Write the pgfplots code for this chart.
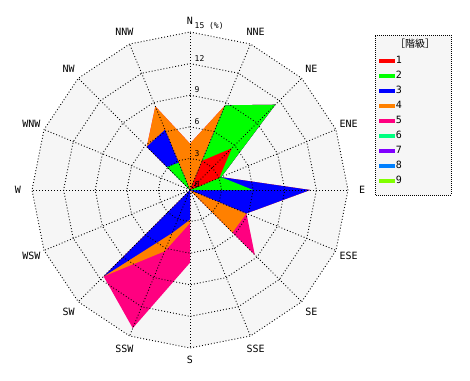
\documentclass[border=0pt]{standalone}
\usepackage{fontspec}
\setmainfont{DejaVu Sans Mono}
\newfontfamily\cjk{Noto Sans CJK JP}
\usepackage{pgfplots}
\pgfplotsset{compat=1.18}
\usepackage{pgfplotstable}
\usepgfplotslibrary{polar}

\definecolor{c1}{RGB}{255,0,0}
\definecolor{c2}{RGB}{0,255,0}
\definecolor{c3}{RGB}{0,0,255}
\definecolor{c4}{RGB}{255,128,0}
\definecolor{c5}{RGB}{255,0,128}
\definecolor{c6}{RGB}{0,255,128}
\definecolor{c7}{RGB}{128,0,255}
\definecolor{c8}{RGB}{0,128,255}
\definecolor{c9}{RGB}{128,255,0}
\definecolor{bgc}{RGB}{246,246,246}

% cumulative frequency (%) of classes 1..5 per direction (angle = math angle)
\pgfplotstableread{
ang   c1   c2    c3    c4    c5
90    0    0     0     4.4   4.4
67.5  3.0  8.7   8.7   8.7   8.7
45    5.6  11.45 11.45 11.45 11.45
22.5  3.0  3.2   3.2   3.2   3.2
0     0    6.0   11.4  11.4  11.4
337.5 0    0     5.8   5.8   5.8
315   0    0     0     5.7   8.7
292.5 0    0     0     0     0
270   0    0     2.8   3.15  6.9
247.5 0    0     4.4   6.3   14.2
225   0    0     11.6  11.6  11.6
202.5 0    0     0     0     0
180   0    0     0     0     0
157.5 0    0     0     0     0
135   0    3.1   5.8   5.8   5.8
112.5 0    2.8   6.2   8.6   8.6
90    0    0     0     4.4   4.4
}\rose

\tikzset{gridl/.style={black, line width=0.9pt, dash pattern=on 0.9pt off 2.1pt}}
\pgfplotsset{legimg/.style={legend image code/.code={\path[fill=#1, draw=none] (0pt,-2pt) rectangle (16pt,2pt);}}}

\begin{document}
\begin{tikzpicture}[x=1pt,y=1pt]
\useasboundingbox (0,0) rectangle (470,380);
% legend frame
\draw[black, line width=0.9pt, dash pattern=on 1pt off 1pt, fill=bgc] (375,185) rectangle (451,345);
\node[font=\cjk\fontsize{10}{11}\selectfont] at (415,336) {［階級］};
\begin{polaraxis}[
  at={(190pt,190pt)}, anchor=center,
  width=316pt, height=316pt, scale only axis,
  hide axis, clip=false, no markers,
  xmin=0, xmax=360, ymin=0, ymax=15,
  legend style={at={(axis description cs:1.098,0.925)}, anchor=north west,
    draw=none, fill=none, inner sep=0pt, outer sep=0pt, row sep=4pt,
    nodes={inner sep=1pt, text height=7pt, text depth=2pt},
    font=\fontsize{10}{11}\selectfont},
  legend cell align=left,
]
% background
\addplot[fill=bgc, draw=none, forget plot] table[x=ang, y expr=15] {\rose};
% stacked classes, largest first
\addplot[fill=c5, draw=none, forget plot] table[x=ang, y=c5] {\rose};
\addplot[fill=c4, draw=none, forget plot] table[x=ang, y=c4] {\rose};
\addplot[fill=c3, draw=none, forget plot] table[x=ang, y=c3] {\rose};
\addplot[fill=c2, draw=none, forget plot] table[x=ang, y=c2] {\rose};
\addplot[fill=c1, draw=none, forget plot] table[x=ang, y=c1] {\rose};
% grid
\pgfplotsinvokeforeach{3,6,9,12,15}{
  \addplot[gridl, forget plot] table[x=ang, y expr=#1] {\rose};
}
\pgfplotsinvokeforeach{0,22.5,45,67.5,90,112.5,135,157.5,180,202.5,225,247.5,270,292.5,315,337.5}{
  \addplot[gridl, forget plot] coordinates {(#1,0) (#1,15)};
}
% legend
\addlegendimage{legimg=c1}\addlegendentry{1}
\addlegendimage{legimg=c2}\addlegendentry{2}
\addlegendimage{legimg=c3}\addlegendentry{3}
\addlegendimage{legimg=c4}\addlegendentry{4}
\addlegendimage{legimg=c5}\addlegendentry{5}
\addlegendimage{legimg=c6}\addlegendentry{6}
\addlegendimage{legimg=c7}\addlegendentry{7}
\addlegendimage{legimg=c8}\addlegendentry{8}
\addlegendimage{legimg=c9}\addlegendentry{9}
% direction labels
\begin{scope}[every node/.style={font=\fontsize{10}{11}\selectfont, inner sep=0pt}]
\node at (axis cs:90,16.1) {N};
\node at (axis cs:67.5,16.3) {NNE};
\node at (axis cs:45,16.3) {NE};
\node at (axis cs:22.5,16.3) {ENE};
\node at (axis cs:0,16.35) {E};
\node at (axis cs:337.5,16.3) {ESE};
\node at (axis cs:315,16.3) {SE};
\node at (axis cs:292.5,16.3) {SSE};
\node at (axis cs:270,16.1) {S};
\node at (axis cs:247.5,16.3) {SSW};
\node at (axis cs:225,16.3) {SW};
\node at (axis cs:202.5,16.3) {WSW};
\node at (axis cs:180,16.35) {W};
\node at (axis cs:157.5,16.3) {WNW};
\node at (axis cs:135,16.3) {NW};
\node at (axis cs:112.5,16.3) {NNW};
\end{scope}
% radial tick labels
\begin{scope}[every node/.style={font=\fontsize{8}{9}\selectfont, inner sep=0pt, anchor=south west, xshift=4.5pt, yshift=2pt}]
\node at (axis cs:90,0) {0};
\node at (axis cs:90,3) {3};
\node at (axis cs:90,6) {6};
\node at (axis cs:90,9) {9};
\node at (axis cs:90,12) {12};
\node at (axis cs:90,15) {15 (\%)};
\end{scope}
\end{polaraxis}
\end{tikzpicture}
\end{document}
